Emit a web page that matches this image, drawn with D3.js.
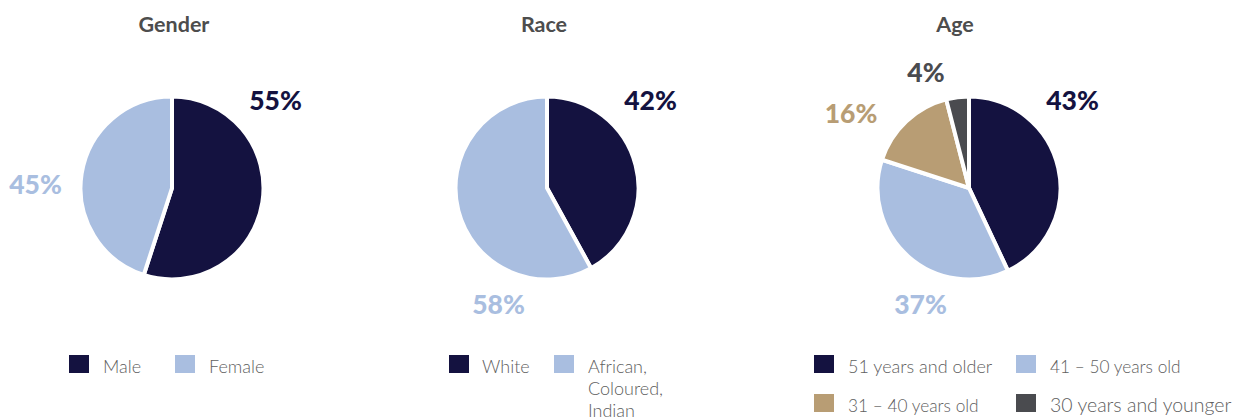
<!DOCTYPE html>
<html><head><meta charset="utf-8">
<script src="https://cdn.jsdelivr.net/npm/d3@7"></script>
<style>
html,body{margin:0;padding:0;background:#fff;}
svg{display:block;}
</style></head>
<body>
<svg id="chart" width="1239" height="417"></svg>
<script>
// ---- data ----
const genderCats = ["Male", "Female"];
const genderValues = [55, 45];
const genderLabels = ["55%", "45%"];

const raceCats = ["White", "African, Coloured, Indian"];
const raceValues = [42, 58];
const raceLabels = ["42%", "58%"];

const ageCats = ["51 years and older", "41 – 50 years old", "31 – 40 years old", "30 years and younger"];
const ageValues = [43, 37, 16, 4];
const ageLabels = ["43%", "37%", "16%", "4%"];

// ---- layout / style ----
const NAVY = "#141240", LBLUE = "#A9BEE0", TAN = "#B89D74", GREY = "#4A4B4F";
const svg = d3.select("#chart");
const R = 91.5;

const charts = [
  { title: "Gender", cats: genderCats, values: genderValues, labels: genderLabels,
    colors: [NAVY, LBLUE], cx: 172, cy: 188, titleX: 174,
    labelOff: [[103.5, -78], [-136.5, 6]],
    legend: [{x: 69, y: 355, tx: 103, fs: 18, lines: ["Male"]}, {x: 175, y: 355, tx: 209, fs: 18, lines: ["Female"]}] },
  { title: "Race", cats: raceCats, values: raceValues, labels: raceLabels,
    colors: [NAVY, LBLUE], cx: 547, cy: 188, titleX: 544,
    labelOff: [[103.5, -78], [-48.5, 126]],
    legend: [{x: 449, y: 355, tx: 482, fs: 18, lines: ["White"]}, {x: 554, y: 355, tx: 588, fs: 18, lines: ["African,", "Coloured,", "Indian"]}] },
  { title: "Age", cats: ageCats, values: ageValues, labels: ageLabels,
    colors: [NAVY, LBLUE, TAN, GREY], cx: 969, cy: 188, titleX: 955,
    labelOff: [[103.5, -78], [-48.5, 126], [-118, -65], [-43, -106]],
    legend: [{x: 814, y: 355, tx: 848, fs: 18, lines: [ageCats[0]]}, {x: 1016, y: 355, tx: 1050, fs: 17.3, lines: [ageCats[1]]},
             {x: 814, y: 394, tx: 848, fs: 17.3, lines: [ageCats[2]]}, {x: 1016, y: 394, tx: 1050, fs: 19.5, lines: [ageCats[3]]}] }
];

const pie = d3.pie().sort(null).value(d => d);
const arc = d3.arc().innerRadius(0).outerRadius(R);

charts.forEach(c => {
  const g = svg.append("g");
  g.append("text").attr("x", c.titleX).attr("y", 32)
    .attr("text-anchor", "middle")
    .style("font-family", "Lato, 'Noto Sans', sans-serif")
    .style("font-weight", 700).style("font-size", "21.5px").style("fill", "#4D4D4D")
    .text(c.title);

  const color = d3.scaleOrdinal().domain(c.cats).range(c.colors);
  const arcs = pie(c.values);
  const pg = g.append("g").attr("transform", `translate(${c.cx},${c.cy})`);
  pg.selectAll("path").data(arcs).join("path")
    .attr("d", arc)
    .attr("fill", (d, i) => color(c.cats[i]))
    .attr("stroke", "#fff").attr("stroke-width", 4).attr("stroke-linejoin", "miter");

  pg.selectAll("text.lbl").data(arcs).join("text").attr("class", "lbl")
    .attr("x", (d, i) => c.labelOff[i][0]).attr("y", (d, i) => c.labelOff[i][1])
    .attr("text-anchor", "middle")
    .style("font-family", "Lato, 'Noto Sans', sans-serif")
    .style("font-weight", 900).style("font-size", "26.5px")
    .style("fill", (d, i) => color(c.cats[i]))
    .text((d, i) => c.labels[i]);

  c.legend.forEach((L, i) => {
    g.append("rect").attr("x", L.x).attr("y", L.y).attr("width", 20).attr("height", 18)
      .attr("fill", color(c.cats[i]));
    const t = g.append("text").attr("x", L.tx).attr("y", L.y + 18)
      .style("font-family", "Lato, 'Noto Sans', sans-serif")
      .style("font-weight", 300).style("font-size", L.fs + "px").style("fill", "#606060");
    L.lines.forEach((ln, j) => {
      t.append("tspan").attr("x", L.tx).attr("dy", j === 0 ? 0 : 22).text(ln);
    });
  });
});
</script>
</body></html>
